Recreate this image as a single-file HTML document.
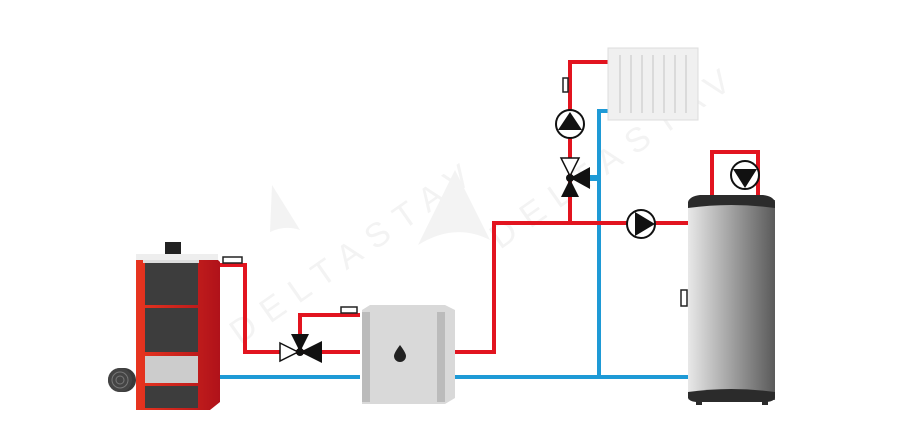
<!DOCTYPE html><html><head><style>body{margin:0;background:#fff}svg{display:block}</style></head><body>
<svg width="900" height="442" viewBox="0 0 900 442" xmlns="http://www.w3.org/2000/svg" font-family="Liberation Sans, sans-serif">
<defs>
<linearGradient id="tg" x1="0" x2="1"><stop offset="0" stop-color="#e8e8e8"/><stop offset="1" stop-color="#5a5a5a"/></linearGradient>
<linearGradient id="rd" x1="0" x2="1"><stop offset="0" stop-color="#e8351f"/><stop offset="1" stop-color="#b0121a"/></linearGradient>
</defs>
<!-- watermark -->
<g fill="#f3f3f3">
<text x="240" y="345" font-size="34" transform="rotate(-35 240 345)" letter-spacing="12">DELTASTAV</text>
<text x="500" y="250" font-size="34" transform="rotate(-35 500 250)" letter-spacing="12">DELTASTAV</text>
<path d="M455 170 L490 240 Q455 222 418 245 Z"/>
<path d="M272 185 L300 230 Q285 225 270 232 Z"/>
</g>
<!-- pipes blue -->
<g stroke="#1e9ad6" stroke-width="4" fill="none">
<path d="M218 377 H360"/><path d="M455 377 H688"/>
<path d="M599 377 V111 H608"/>
<path d="M588 178 H599" stroke-width="6"/>
</g>
<!-- pipes red -->
<g stroke="#e2141f" stroke-width="4" fill="none">
<path d="M218 265 H245 V352 H360"/>
<path d="M300 352 V315 H360"/>
<path d="M455 352 H494 V223 H688"/>
<path d="M570 223 V62 H608"/>
<path d="M712 196 V152 H758 V196"/>
</g>
<!-- sensors -->
<g fill="#fff" stroke="#222" stroke-width="1.5">
<rect x="223" y="257" width="19" height="6"/>
<rect x="341" y="307" width="16" height="6"/>
<rect x="563" y="78" width="5" height="14"/>
<rect x="681" y="290" width="6" height="16"/>
</g>
<!-- boiler -->
<rect x="108" y="368" width="28" height="24" rx="12" fill="#3a3a3a"/>
<circle cx="120" cy="380" r="12" fill="#444"/><circle cx="120" cy="380" r="8" fill="none" stroke="#777"/><circle cx="120" cy="380" r="4" fill="none" stroke="#777"/>
<rect x="165" y="242" width="16" height="12" fill="#222"/>
<path d="M136 258 H216 L220 262 V402 L210 410 H136 Z" fill="url(#rd)"/>
<rect x="143" y="255" width="56" height="8" fill="#ddd"/>
<rect x="136" y="254" width="82" height="6" fill="#eee"/>
<rect x="145" y="263" width="53" height="42" fill="#3d3d3d"/>
<rect x="145" y="308" width="53" height="44" fill="#3d3d3d"/>
<rect x="145" y="356" width="53" height="27" fill="#ccc"/>
<rect x="145" y="386" width="53" height="22" fill="#3d3d3d"/>
<!-- valve 1 -->
<path d="M280 343 L298 352 L280 361 Z" fill="#fff" stroke="#111" stroke-width="1.5"/>
<path d="M300 352 L322 341 V363 Z" fill="#111"/>
<path d="M291 334 H309 L300 352 Z" fill="#111"/>
<circle cx="300" cy="352" r="4" fill="#111"/>
<!-- buffer -->
<path d="M362 310 L370 305 H445 L455 310 V398 L445 404 H362 Z" fill="#d9d9d9"/>
<rect x="362" y="312" width="8" height="90" fill="#bbb"/>
<rect x="437" y="312" width="8" height="90" fill="#bbb"/>
<path d="M400 345 Q394 353 394 356 A6 6 0 0 0 406 356 Q406 353 400 345 Z" fill="#222"/>
<!-- radiator -->
<rect x="608" y="48" width="90" height="72" fill="#f0f0f0" stroke="#ddd"/>
<g stroke="#ccc" stroke-width="1.2"><path d="M620 55V113M631 55V113M642 55V113M653 55V113M664 55V113M675 55V113M686 55V113"/></g>
<!-- pump riser -->
<circle cx="570" cy="124" r="14" fill="#fff" stroke="#111" stroke-width="2"/>
<path d="M558 130 L570 112 L582 130 Z" fill="#111"/>
<!-- valve 2 -->
<path d="M561 158 H579 L570 176 Z" fill="#fff" stroke="#111" stroke-width="1.5"/>
<path d="M570 178 L590 167 V189 Z" fill="#111"/>
<path d="M561 197 H579 L570 179 Z" fill="#111"/>
<circle cx="570" cy="178" r="4" fill="#111"/>
<!-- pump horizontal -->
<circle cx="641" cy="224" r="14" fill="#fff" stroke="#111" stroke-width="2"/>
<path d="M635 212 L655 224 L635 236 Z" fill="#111"/>
<!-- tank pump -->
<circle cx="745" cy="175" r="14" fill="#fff" stroke="#111" stroke-width="2"/>
<path d="M733 169 H757 L745 188 Z" fill="#111"/>
<!-- tank -->
<rect x="688" y="200" width="87" height="200" fill="url(#tg)"/>
<path d="M688 208 V202 Q690 196 700 195 H763 Q773 196 775 202 V208 Q731 202 688 208 Z" fill="#2b2b2b"/>
<path d="M688 392 Q731 386 775 392 V398 Q773 402 765 402 H698 Q690 402 688 398 Z" fill="#2b2b2b"/>
<rect x="696" y="400" width="6" height="5" fill="#2b2b2b"/><rect x="762" y="400" width="6" height="5" fill="#2b2b2b"/>
</svg>
</body></html>
